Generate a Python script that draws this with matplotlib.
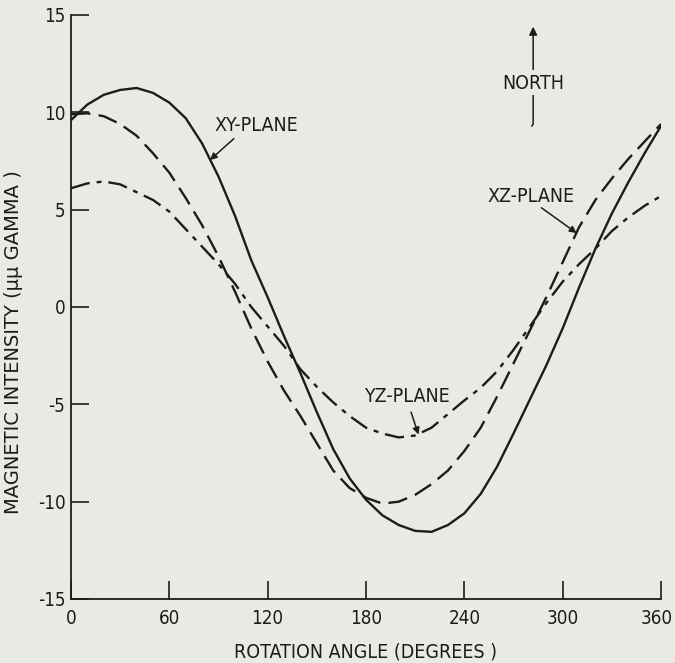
import numpy as np
import matplotlib
matplotlib.use("Agg")
import matplotlib.pyplot as plt
import matplotlib.transforms as mtransforms

# values, every 10 degrees
angle = list(range(0, 361, 10))

xy_plane = [9.6, 10.4, 10.9, 11.15, 11.25, 11.0, 10.5, 9.7, 8.4, 6.7,
            4.7, 2.4, 0.5, -1.5, -3.4, -5.4, -7.3, -8.8, -9.9, -10.7,
            -11.2, -11.5, -11.55, -11.2, -10.6, -9.6, -8.2, -6.5, -4.75, -3.0,
            -1.1, 1.0, 3.0, 4.8, 6.4, 7.9, 9.3]

xz_plane = [9.9, 9.95, 9.8, 9.4, 8.8, 7.9, 6.9, 5.6, 4.2, 2.6,
            0.8, -1.1, -2.8, -4.3, -5.6, -7.0, -8.4, -9.3, -9.8, -10.1,
            -10.0, -9.65, -9.1, -8.4, -7.4, -6.2, -4.6, -2.9, -1.2, 0.5,
            2.3, 4.1, 5.5, 6.6, 7.6, 8.5, 9.4]

yz_plane = [6.1, 6.35, 6.45, 6.3, 5.9, 5.5, 4.9, 4.0, 3.1, 2.2,
            1.2, 0.0, -1.0, -2.0, -3.2, -4.1, -4.9, -5.6, -6.2, -6.5,
            -6.7, -6.6, -6.2, -5.5, -4.8, -4.15, -3.3, -2.2, -1.0, 0.2,
            1.3, 2.2, 3.0, 3.9, 4.6, 5.2, 5.7]

x_ticks = [0, 60, 120, 180, 240, 300, 360]
y_ticks = [-15, -10, -5, 0, 5, 10, 15]

paper = "#eaeae5"
ink = "#1c1c1c"

plt.rcParams["font.family"] = ["DejaVu Sans"]
plt.rcParams["font.stretch"] = "condensed"
plt.rcParams["lines.scale_dashes"] = False

fig = plt.figure(figsize=(6.75, 6.63), dpi=100, facecolor=paper)
ax = fig.add_axes([71 / 675, 1 - 599 / 663, 590 / 675, 584 / 663])
ax.set_facecolor(paper)

ax.plot(angle, xy_plane, color=ink, lw=1.7, solid_capstyle="round")
ax.plot(angle, xz_plane, color=ink, lw=1.7, dashes=(14, 6))
ax.plot(angle, yz_plane, color=ink, lw=1.7, dashes=(14, 5, 3.5, 5))

ax.set_xlim(0, 360)
ax.set_ylim(-15, 15)
for side in ["top", "right"]:
    ax.spines[side].set_visible(False)
for side in ["left", "bottom"]:
    ax.spines[side].set_color(ink)
    ax.spines[side].set_linewidth(1.3)

fs = 14
ax.set_xticks(x_ticks)
ax.set_yticks(y_ticks)
ax.set_xticklabels([str(t) for t in x_ticks])
ax.set_yticklabels([str(t) for t in y_ticks])
ax.tick_params(direction="in", length=13, width=1.2, color=ink,
               labelsize=13.5, labelcolor=ink)
ax.tick_params(axis="x", pad=7)
ax.tick_params(axis="y", pad=4)

# nudge the last x label so it stays inside the figure
last = ax.get_xticklabels()[-1]
last.set_transform(last.get_transform() +
                   mtransforms.ScaledTranslation(-4 / 100, 0, fig.dpi_scale_trans))

ax.set_xlabel("ROTATION ANGLE (DEGREES )", fontsize=fs, color=ink, labelpad=11)
ax.set_ylabel("MAGNETIC INTENSITY (\u03bc\u03bc GAMMA )", fontsize=14,
              fontstretch="normal", color=ink)
ax.yaxis.set_label_coords(-0.081, 0.44)

# curve labels with pointer arrows
arrow = dict(arrowstyle="-|>", color=ink, lw=1.1, mutation_scale=10,
             shrinkA=0, shrinkB=0)
ax.text(113, 9.3, "XY-PLANE", fontsize=fs, color=ink, ha="center", va="center")
ax.annotate("", xy=(84.8, 7.55), xytext=(99.4, 8.65), arrowprops=arrow)

ax.text(281, 5.7, "XZ-PLANE", fontsize=fs, color=ink, ha="center", va="center")
ax.annotate("", xy=(308.5, 3.8), xytext=(287, 5.1), arrowprops=arrow)

ax.text(205, -4.6, "YZ-PLANE", fontsize=fs, color=ink, ha="center", va="center")
ax.annotate("", xy=(212, -6.55), xytext=(207.5, -5.4), arrowprops=arrow)

# north marker
ax.text(282, 11.5, "NORTH", fontsize=fs, color=ink, ha="center", va="center")
ax.annotate("", xy=(282, 14.4), xytext=(282, 12.2),
            arrowprops=dict(arrowstyle="-|>", color=ink, lw=1.1,
                            mutation_scale=12, shrinkA=0, shrinkB=0))
ax.plot([282, 282, 281.2], [10.85, 9.4, 9.3], color=ink, lw=1.1, clip_on=False)

fig.savefig("out.png", dpi=100, facecolor=paper)
